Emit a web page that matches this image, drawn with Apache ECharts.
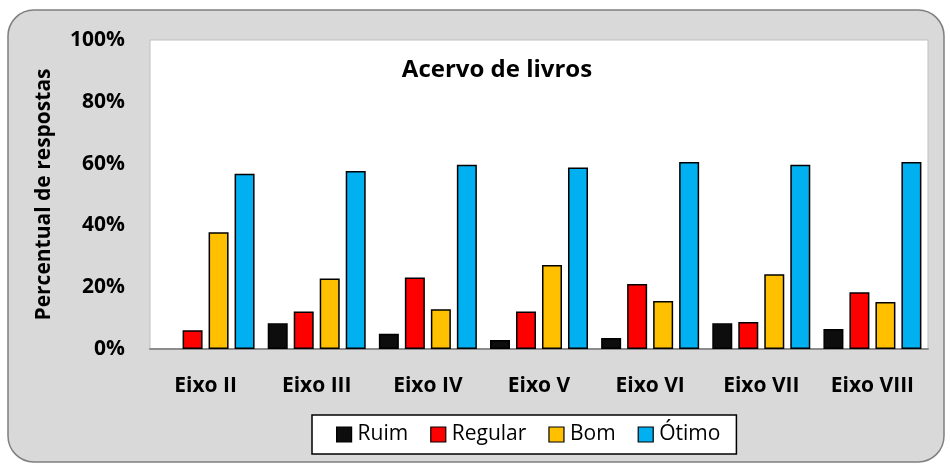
<!DOCTYPE html>
<html>
<head>
<meta charset="utf-8">
<script src="https://cdn.jsdelivr.net/npm/echarts@6/dist/echarts.min.js"></script>
<style>
  html, body { margin: 0; padding: 0; background: #fff; }
  #chart { width: 950px; height: 474px; }
</style>
</head>
<body>
<div id="chart"></div>
<script>
// dados
var eixos = ["Eixo II", "Eixo III", "Eixo IV", "Eixo V", "Eixo VI", "Eixo VII", "Eixo VIII"];
var ruim = [0, 8.3, 4.9, 2.9, 3.6, 8.3, 6.5];
var regular = [6.1, 12.1, 23.1, 12.1, 21.0, 8.7, 18.4];
var bom = [37.8, 22.8, 12.9, 27.2, 15.5, 24.2, 15.2];
var otimo = [56.7, 57.6, 59.6, 58.7, 60.5, 59.6, 60.5];

var fonte = "Open Sans";
var chart = echarts.init(document.getElementById("chart"));

function serie(nome, dados, cor) {
  return {
    name: nome,
    type: "bar",
    // valor 0 não aparece no original (nem a borda)
    data: dados.map(function (v) { return v === 0 ? "-" : v; }),
    barWidth: 20,
    barGap: "30%",
    itemStyle: { color: cor, borderColor: "#000", borderWidth: 1.5 }
  };
}

chart.setOption({
  animation: false,
  graphic: [
    {
      type: "rect",
      z: -10,
      shape: { x: 8, y: 10, width: 936, height: 452, r: 26 },
      style: { fill: "#d9d9d9", stroke: "#7f7f7f", lineWidth: 1.5 }
    }
  ],
  title: {
    text: "Acervo de livros",
    left: 492,
    top: 53,
    textAlign: "center",
    textStyle: { fontFamily: fonte, fontSize: 24, fontWeight: "bold", color: "#000" }
  },
  legend: {
    data: ["Ruim", "Regular", "Bom", "Ótimo"],
    icon: "rect",
    left: 312,
    top: 415,
    padding: [9, 16, 9, 24],
    itemWidth: 15,
    itemHeight: 15,
    itemGap: 22,
    backgroundColor: "#fff",
    borderColor: "#000",
    borderWidth: 1.5,
    itemStyle: { borderColor: "#000", borderWidth: 1.2 },
    textStyle: { fontFamily: fonte, fontSize: 21, color: "#000", padding: [0, 0, 0, 1] }
  },
  grid: {
    left: 150,
    right: 22,
    top: 40,
    bottom: 125,
    show: true,
    backgroundColor: "#fff",
    borderColor: "#bfbfbf",
    borderWidth: 1
  },
  xAxis: {
    type: "category",
    data: eixos,
    axisLine: { lineStyle: { color: "#8c8c8c", width: 2 } },
    axisTick: { show: false },
    axisLabel: { margin: 27, fontFamily: fonte, fontSize: 21, fontWeight: "bold", color: "#000" }
  },
  yAxis: {
    type: "value",
    min: 0,
    max: 100,
    interval: 20,
    name: "Percentual de respostas",
    nameLocation: "middle",
    nameGap: 95,
    nameTextStyle: { fontFamily: fonte, fontSize: 21, fontWeight: "bold", color: "#000" },
    axisLine: { show: false },
    axisTick: { show: false },
    splitLine: { show: false },
    axisLabel: { margin: 25, formatter: "{value}%", fontFamily: fonte, fontSize: 21, fontWeight: "bold", color: "#000" }
  },
  series: [
    serie("Ruim", ruim, "#0d0d0d"),
    serie("Regular", regular, "#ff0000"),
    serie("Bom", bom, "#ffc000"),
    serie("Ótimo", otimo, "#00b0f0")
  ]
});
</script>
</body>
</html>
